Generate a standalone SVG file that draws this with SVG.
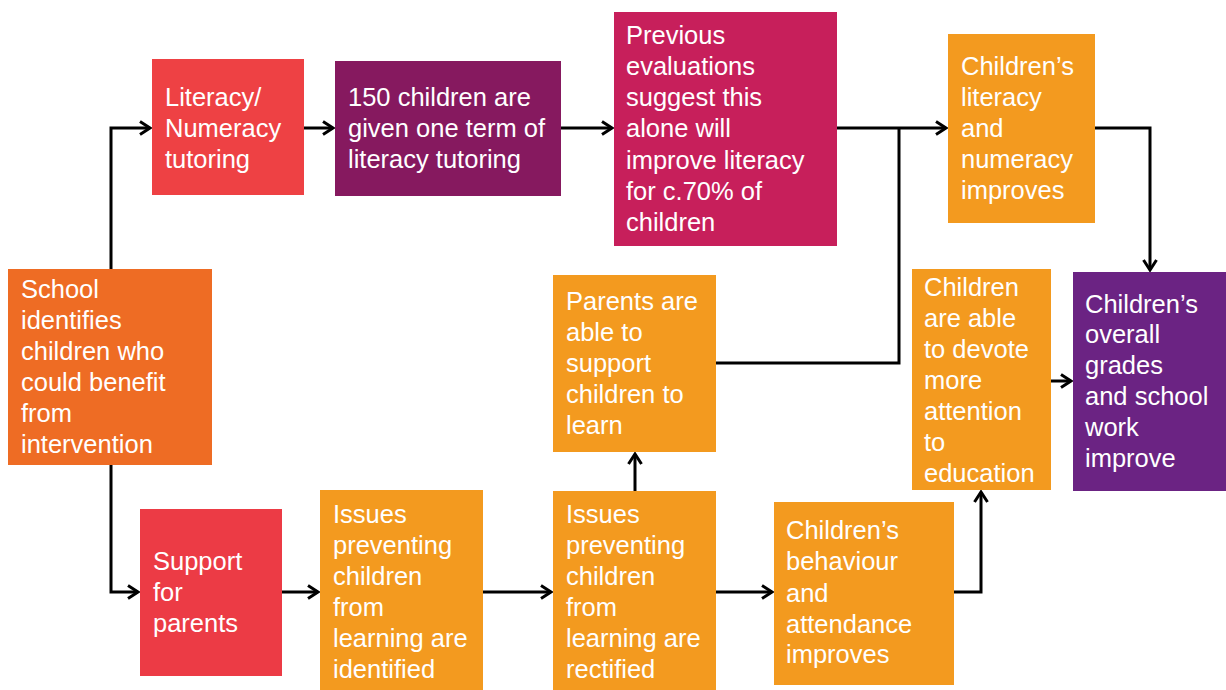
<svg xmlns="http://www.w3.org/2000/svg" width="1226" height="690" viewBox="0 0 1226 690">
<style>
text{font-family:"Liberation Sans",Arial,sans-serif;font-size:25.5px;fill:#ffffff}
.c{fill:none;stroke:#000;stroke-width:3;stroke-linejoin:miter}
.orange{fill:#F39A1F}
</style>
<defs>
<marker id="ar" markerUnits="userSpaceOnUse" markerWidth="14" markerHeight="16" viewBox="0 0 14 16" refX="12" refY="8" orient="auto">
<path d="M2,1.5 L12,8 L2,14.5" fill="none" stroke="#000" stroke-width="3"/>
</marker>
</defs>
<rect width="1226" height="690" fill="#ffffff"/>
<g id="connectors">
<path class="c" d="M111,269 V128 H150" marker-end="url(#ar)"/>
<path class="c" d="M304,128 H333" marker-end="url(#ar)"/>
<path class="c" d="M561,128 H612" marker-end="url(#ar)"/>
<path class="c" d="M837,128 H946" marker-end="url(#ar)"/>
<path class="c" d="M716,363 H899 V128"/>
<path class="c" d="M1095,128 H1150 V270" marker-end="url(#ar)"/>
<path class="c" d="M111,465 V592 H138" marker-end="url(#ar)"/>
<path class="c" d="M282,592 H318" marker-end="url(#ar)"/>
<path class="c" d="M483,592 H551" marker-end="url(#ar)"/>
<path class="c" d="M635,491 V454" marker-end="url(#ar)"/>
<path class="c" d="M716,592 H772" marker-end="url(#ar)"/>
<path class="c" d="M954,592 H981 V492" marker-end="url(#ar)"/>
<path class="c" d="M1051,381 H1071" marker-end="url(#ar)"/>
</g>
<g id="school">
<rect x="8" y="269" width="204" height="196" fill="#EE6C24"/>
<text x="21" y="298">School</text>
<text x="21" y="329">identifies</text>
<text x="21" y="360">children who</text>
<text x="21" y="391">could benefit</text>
<text x="21" y="422">from</text>
<text x="21" y="453">intervention</text>
</g>
<g id="literacy-tutoring">
<rect x="152" y="59" width="152" height="136" fill="#EE4144"/>
<text x="165" y="106">Literacy/</text>
<text x="165" y="137">Numeracy</text>
<text x="165" y="168">tutoring</text>
</g>
<g id="children-150">
<rect x="335" y="61" width="226" height="135" fill="#86195F"/>
<text x="348" y="106">150 children are</text>
<text x="348" y="137">given one term of</text>
<text x="348" y="168">literacy tutoring</text>
</g>
<g id="previous-evaluations">
<rect x="614" y="12" width="223" height="234" fill="#C71F5B"/>
<text x="626" y="44">Previous</text>
<text x="626" y="75">evaluations</text>
<text x="626" y="106">suggest this</text>
<text x="626" y="137">alone will</text>
<text x="626" y="169">improve literacy</text>
<text x="626" y="200">for c.70% of</text>
<text x="626" y="231">children</text>
</g>
<g id="literacy-improves">
<rect x="948" y="34" width="147" height="189" class="orange"/>
<text x="961" y="75">Children’s</text>
<text x="961" y="106">literacy</text>
<text x="961" y="137">and</text>
<text x="961" y="168">numeracy</text>
<text x="961" y="199">improves</text>
</g>
<g id="overall-grades">
<rect x="1073" y="272" width="153" height="219" fill="#6B2383"/>
<text x="1085" y="313">Children’s</text>
<text x="1085" y="343">overall</text>
<text x="1085" y="374">grades</text>
<text x="1085" y="405">and school</text>
<text x="1085" y="436">work</text>
<text x="1085" y="467">improve</text>
</g>
<g id="devote-attention">
<rect x="912" y="269" width="139" height="221" class="orange"/>
<text x="924" y="296">Children</text>
<text x="924" y="327">are able</text>
<text x="924" y="358">to devote</text>
<text x="924" y="389">more</text>
<text x="924" y="420">attention</text>
<text x="924" y="451">to</text>
<text x="924" y="482">education</text>
</g>
<g id="parents-support">
<rect x="553" y="275" width="163" height="177" class="orange"/>
<text x="566" y="310">Parents are</text>
<text x="566" y="341">able to</text>
<text x="566" y="372">support</text>
<text x="566" y="403">children to</text>
<text x="566" y="434">learn</text>
</g>
<g id="support-parents">
<rect x="140" y="509" width="142" height="167" fill="#EC3B45"/>
<text x="153" y="570">Support</text>
<text x="153" y="601">for</text>
<text x="153" y="632">parents</text>
</g>
<g id="issues-identified">
<rect x="320" y="490" width="163" height="200" class="orange"/>
<text x="333" y="523">Issues</text>
<text x="333" y="554">preventing</text>
<text x="333" y="585">children</text>
<text x="333" y="616">from</text>
<text x="333" y="647">learning are</text>
<text x="333" y="678">identified</text>
</g>
<g id="issues-rectified">
<rect x="553" y="491" width="163" height="199" class="orange"/>
<text x="566" y="523">Issues</text>
<text x="566" y="554">preventing</text>
<text x="566" y="585">children</text>
<text x="566" y="616">from</text>
<text x="566" y="647">learning are</text>
<text x="566" y="678">rectified</text>
</g>
<g id="behaviour-attendance">
<rect x="774" y="502" width="180" height="183" class="orange"/>
<text x="786" y="539">Children’s</text>
<text x="786" y="570">behaviour</text>
<text x="786" y="602">and</text>
<text x="786" y="633">attendance</text>
<text x="786" y="663">improves</text>
</g>
</svg>
